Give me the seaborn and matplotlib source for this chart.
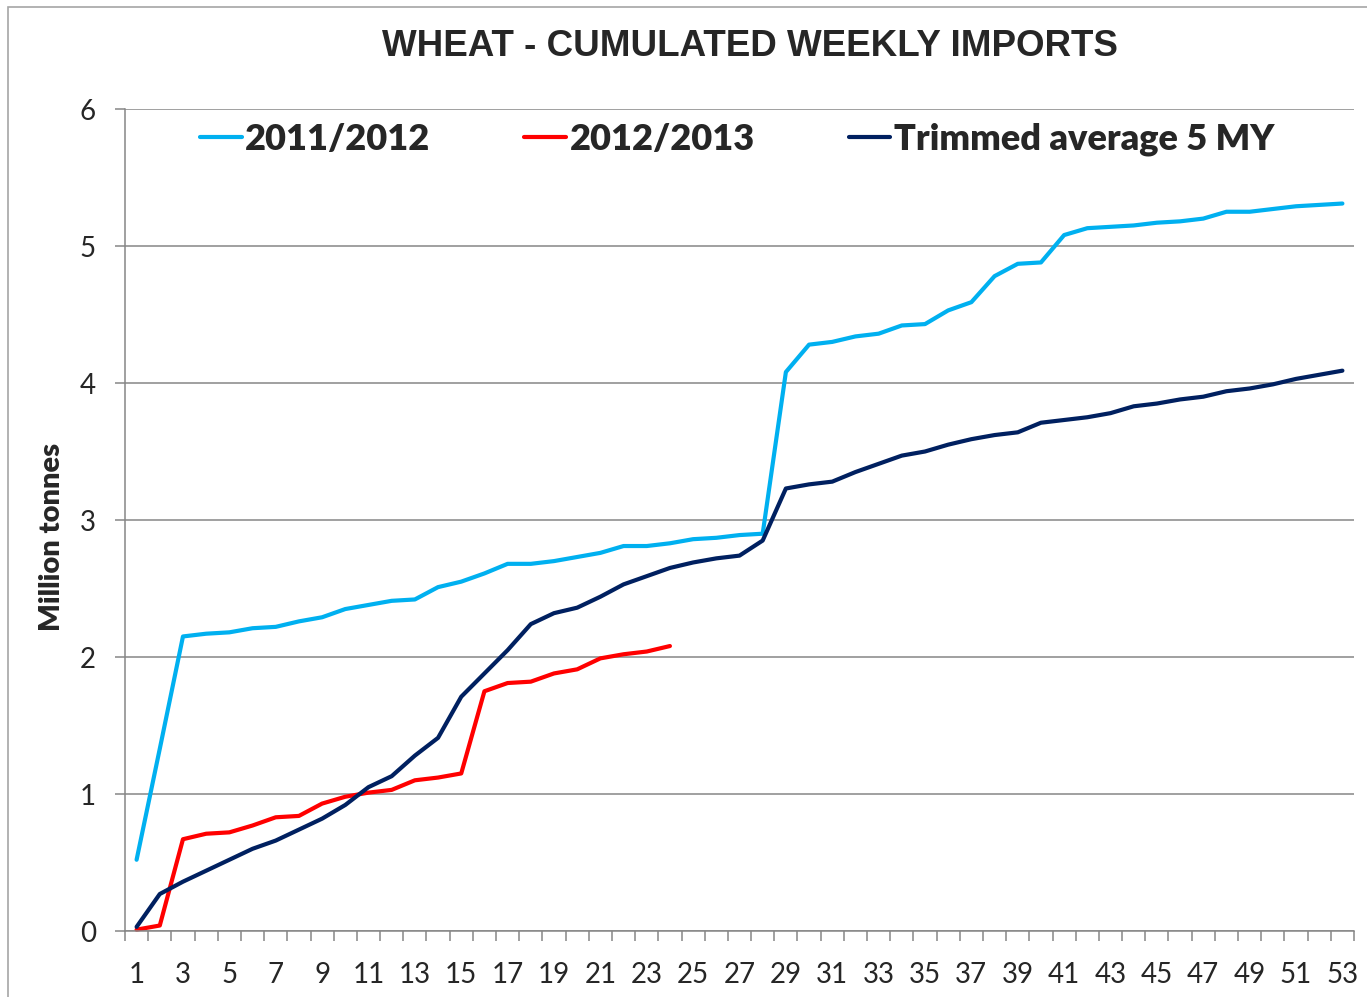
import matplotlib
matplotlib.use("Agg")
import matplotlib.pyplot as plt
import numpy as np
import pandas as pd
import seaborn as sns
from matplotlib.patches import Rectangle

sns.set_theme(style="white")
plt.rcParams["font.family"] = ["Lato", "DejaVu Sans"]

weeks = list(range(1, 54))

imports_2011 = [0.52, 1.33, 2.15, 2.17, 2.18, 2.21, 2.22, 2.26, 2.29, 2.35,
                2.38, 2.41, 2.42, 2.51, 2.55, 2.61, 2.68, 2.68, 2.70, 2.73,
                2.76, 2.81, 2.81, 2.83, 2.86, 2.87, 2.89, 2.90, 4.08, 4.28,
                4.30, 4.34, 4.36, 4.42, 4.43, 4.53, 4.59, 4.78, 4.87, 4.88,
                5.08, 5.13, 5.14, 5.15, 5.17, 5.18, 5.20, 5.25, 5.25, 5.27,
                5.29, 5.30, 5.31]

imports_2012 = [0.01, 0.04, 0.67, 0.71, 0.72, 0.77, 0.83, 0.84, 0.93, 0.98,
                1.01, 1.03, 1.10, 1.12, 1.15, 1.75, 1.81, 1.82, 1.88, 1.91,
                1.99, 2.02, 2.04, 2.08]

trimmed_avg = [0.03, 0.27, 0.36, 0.44, 0.52, 0.60, 0.66, 0.74, 0.82, 0.92,
               1.05, 1.13, 1.28, 1.41, 1.71, 1.88, 2.05, 2.24, 2.32, 2.36,
               2.44, 2.53, 2.59, 2.65, 2.69, 2.72, 2.74, 2.85, 3.23, 3.26,
               3.28, 3.35, 3.41, 3.47, 3.50, 3.55, 3.59, 3.62, 3.64, 3.71,
               3.73, 3.75, 3.78, 3.83, 3.85, 3.88, 3.90, 3.94, 3.96, 3.99,
               4.03, 4.06, 4.09]

series_names = ["2011/2012", "2012/2013", "Trimmed average 5 MY"]
colors = ["#00B0F0", "#FF0000", "#002060"]

frames = []
for name, vals in zip(series_names, [imports_2011, imports_2012, trimmed_avg]):
    frames.append(pd.DataFrame({"week": weeks[:len(vals)], "value": vals, "series": name}))
data = pd.concat(frames, ignore_index=True)

grey = "#868686"

fig = plt.figure(figsize=(13.67, 9.97), dpi=100)
ax = fig.add_axes([125 / 1367, 66 / 997, 1229 / 1367, 822 / 997])

sns.lineplot(data=data, x="week", y="value", hue="series", hue_order=series_names,
             palette=colors, linewidth=3.0, ax=ax, clip_on=False)

ax.set_xlim(0.5, 53.5)
ax.set_ylim(0, 6)
ax.set_yticks(range(0, 7))
ax.set_xticks(range(1, 54, 2))
ax.set_xticks(np.arange(0.5, 54, 1), minor=True)
ax.tick_params(axis="x", which="major", length=0, pad=22, labelsize=20)
ax.tick_params(axis="x", which="minor", length=7, width=1.1, color=grey, bottom=True)
ax.tick_params(axis="y", which="major", length=7, width=1.1, color=grey, pad=14, labelsize=20, left=True)

ax.grid(axis="y", color=grey, linewidth=1.1)
ax.set_axisbelow(True)
for side in ["top", "right"]:
    ax.spines[side].set_visible(False)
for side in ["left", "bottom"]:
    ax.spines[side].set_color(grey)
    ax.spines[side].set_linewidth(1.1)

ax.set_xlabel("")
ax.set_ylabel("Million tonnes", fontsize=21, fontweight="heavy")
ax.yaxis.set_label_coords(-0.049, 0.479)

handles, labels = ax.get_legend_handles_labels()
ax.legend(handles, labels, ncol=3, frameon=False, loc="center",
          bbox_to_anchor=(0.498, 0.963), prop={"size": 26, "weight": "heavy"},
          handlelength=1.15, handletextpad=0.1, columnspacing=2.6)

fig.text(750 / 1367, 1 - 47 / 997, "WHEAT - CUMULATED WEEKLY IMPORTS",
         ha="center", va="center", fontsize=26.5, fontweight="bold",
         family="Liberation Sans")

fig.patches.append(Rectangle((8 / 1367, -0.1), 1.2, 1.1 - 7 / 997,
                             transform=fig.transFigure, fill=False,
                             edgecolor="#A6A6A6", linewidth=1.2))

fig.savefig("out.png", dpi=100)
